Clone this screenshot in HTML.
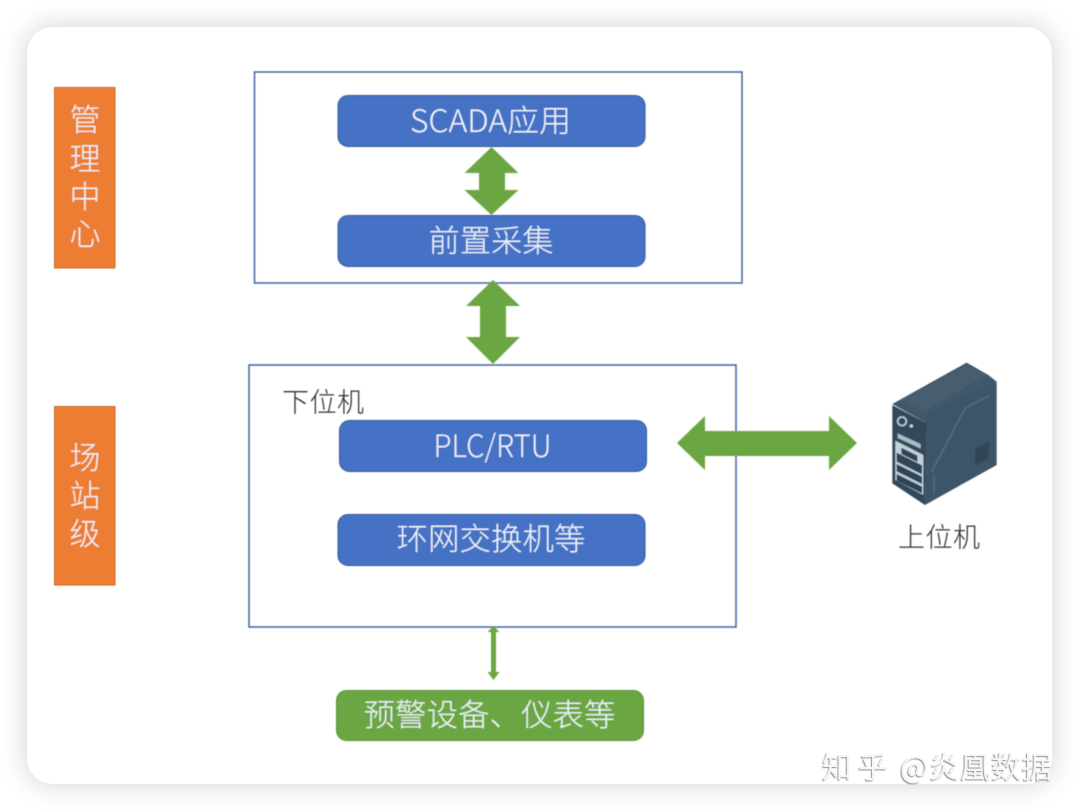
<!DOCTYPE html>
<html>
<head>
<meta charset="utf-8">
<style>
html,body{margin:0;padding:0;background:#fff;}
body{width:1080px;height:812px;overflow:hidden;position:relative;}
#card{position:absolute;left:27px;top:27px;width:1025px;height:757px;background:#fff;border-radius:26px;box-shadow:0 0 26px 3px rgba(0,0,0,.15);}
svg{position:absolute;left:0;top:0;}
text{font-family:"Liberation Sans","Noto Sans CJK SC",sans-serif;}
.cjk{font-family:"Noto Sans CJK SC","Liberation Sans",sans-serif;font-weight:300;}
.wm{font-family:"Noto Sans CJK SC","Liberation Sans",sans-serif;font-weight:400;}
.w{fill:#eef3fb;font-size:31px;text-anchor:middle;}
.k{fill:#303030;font-size:27px;}
</style>
</head>
<body>
<div id="card"></div>
<svg width="1080" height="812" viewBox="0 0 1080 812" xmlns="http://www.w3.org/2000/svg">
<defs>
<filter id="b" x="-5%" y="-5%" width="110%" height="110%"><feGaussianBlur stdDeviation="0.55"/></filter>
<filter id="wm" x="-5%" y="-20%" width="110%" height="140%"><feDropShadow dx="-1" dy="1" stdDeviation="0.5" flood-color="#8f8f8f" flood-opacity="1"/></filter>
</defs>
<g filter="url(#b)">
<rect x="254.5" y="72" width="487.5" height="211" fill="none" stroke="#3f62a0" stroke-width="1.5"/>
<rect x="249" y="365" width="487" height="262" fill="none" stroke="#3f62a0" stroke-width="1.5"/>

<rect x="54.5" y="87.5" width="60.5" height="180.5" fill="#ed7d31" stroke="#c8692a" stroke-width="1"/>
<rect x="54.5" y="406.5" width="60.5" height="178.5" fill="#ed7d31" stroke="#c8692a" stroke-width="1"/>

<rect x="338" y="95.5" width="307" height="51" rx="10" fill="#4472c4" stroke="#36599c"/>
<rect x="338" y="215.5" width="307" height="51" rx="10" fill="#4472c4" stroke="#36599c"/>
<rect x="339.5" y="420.5" width="307" height="51" rx="10" fill="#4472c4" stroke="#36599c"/>
<rect x="338" y="514.5" width="307" height="51" rx="10" fill="#4472c4" stroke="#36599c"/>
<rect x="336.5" y="690.5" width="307" height="50" rx="10" fill="#6ba743" stroke="#5a9236"/>

<polygon fill="#6ba743" points="491.5,147 518.5,173 505,173 505,190 518.5,190 491.5,215 464.5,190 479,190 479,173 464.5,173"/>
<polygon fill="#6ba743" points="493,280 520,306 506,306 506,337 520,337 493,364 466,337 480,337 480,306 466,306"/>
<polygon fill="#6ba743" points="677,443 705,416 705,431 829,431 829,416 857,443 829,470 829,456 705,456 705,470"/>
<polygon fill="#6ba743" points="493.5,626 499.5,632 496,632 496,672 499.5,672 493.5,680 487.5,672 491,672 491,632 487.5,632"/>

<g transform="translate(860,340) scale(0.3333)">
<polygon fill="#41586b" points="97,192 320,68 385,105 410,125 200,250"/>
<polygon fill="#3d5568" points="200,225 410,125 410,375 195,495"/>
<polygon fill="#33495b" points="97,195 200,250 195,495 97,430"/>
<path d="M125,180 L320,75 L380,105 L190,215 Z" fill="#465d70"/>
<path d="M215,395 L315,205 L390,165" fill="none" stroke="#4d6778" stroke-width="7"/>
<rect x="345" y="325" width="42" height="50" fill="#314657" transform="skewY(-28) translate(0,185)"/>
<path d="M222,405 L222,460" stroke="#4d6778" stroke-width="6"/>
<circle cx="126" cy="244" r="13" fill="none" stroke="#b7c9d4" stroke-width="5"/>
<circle cx="154" cy="258" r="5" fill="#c9d7df"/>
<polygon fill="#a9bcc8" points="113,280 182,312 182,326 113,294"/>
<polygon fill="#c2d1da" points="106,302 190,345 190,465 106,420"/>
<polygon fill="#2f4557" points="124,323 172,347 172,366 124,342"/>
<polygon fill="#2f4557" points="110,338 186,376 186,403 110,365"/>
<polygon fill="#2f4557" points="110,372 186,410 186,432 110,394"/>
<polygon fill="#2f4557" points="110,402 186,440 186,460 110,422"/>
</g>

<text class="w cjk" x="85" y="131">管</text>
<text class="w cjk" x="85" y="170">理</text>
<text class="w cjk" x="85" y="208">中</text>
<text class="w cjk" x="85" y="245">心</text>
<text class="w cjk" x="85" y="469">场</text>
<text class="w cjk" x="85" y="507">站</text>
<text class="w cjk" x="85" y="545">级</text>

<text class="w cjk" x="410" y="132" style="text-anchor:start" textLength="161" lengthAdjust="spacingAndGlyphs">SCADA应用</text>
<text class="w cjk" x="491" y="252" textLength="125" lengthAdjust="spacingAndGlyphs">前置采集</text>
<text class="w cjk" x="492.5" y="457" textLength="118" lengthAdjust="spacingAndGlyphs">PLC/RTU</text>
<text class="w cjk" x="491" y="550" textLength="189" lengthAdjust="spacingAndGlyphs">环网交换机等</text>
<text class="w cjk" x="489.5" y="726" textLength="252" lengthAdjust="spacingAndGlyphs">预警设备、仪表等</text>

<text class="k cjk" x="282" y="412" textLength="82">下位机</text>
<text class="k cjk" x="898" y="547" textLength="82">上位机</text>
</g>
<g filter="url(#wm)" fill="#f6f6f6" font-size="30">
<text class="wm" x="822" y="778" textLength="66">知乎</text>
<text class="wm" x="900" y="778" textLength="152">@炎凰数据</text>
</g>
</svg>
</body>
</html>
